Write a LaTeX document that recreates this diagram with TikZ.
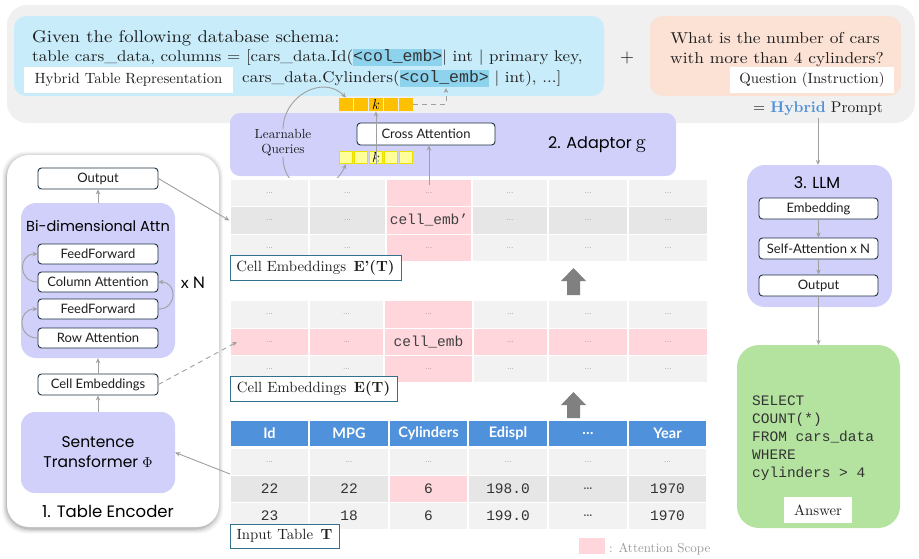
\documentclass[tikz,border=0pt]{standalone}
\usepackage{fontspec}
\setmainfont{lmroman10-regular.otf}[BoldFont=lmroman10-bold.otf,ItalicFont=lmroman10-italic.otf,BoldItalicFont=lmroman10-bolditalic.otf]
\newfontfamily\geof{lmroman10-regular.otf}[BoldFont=lmroman10-bold.otf,FakeStretch=1.1]
\usetikzlibrary{arrows.meta,calc}
\newfontfamily\titlef{Poppins}
\newfontfamily\labf{Lato}
\newfontfamily\monof{Liberation Mono}
\newcommand\fsz[1]{\fontsize{#1}{#1}\selectfont}
\newcommand\geo{\geof\fsz{17}}
\definecolor{bggray}{RGB}{240,240,240}
\definecolor{schemab}{RGB}{200,236,250}
\definecolor{cembc}{RGB}{141,211,238}
\definecolor{questo}{RGB}{251,226,213}
\definecolor{purp}{RGB}{208,208,250}
\definecolor{greenb}{RGB}{180,227,160}
\definecolor{pinkc}{RGB}{255,214,220}
\definecolor{graya}{RGB}{242,242,242}
\definecolor{grayb}{RGB}{230,230,230}
\definecolor{hdrblue}{RGB}{79,145,219}
\definecolor{gold}{RGB}{255,192,0}
\definecolor{lyellow}{RGB}{255,255,153}
\definecolor{yborder}{RGB}{235,225,0}
\definecolor{navy}{RGB}{28,48,64}
\definecolor{tealb}{RGB}{49,112,143}
\definecolor{conng}{RGB}{160,160,160}
\definecolor{txt}{RGB}{30,30,30}
\definecolor{blockg}{RGB}{128,128,128}
\newcommand\cemb{{\setlength\fboxsep{0pt}\colorbox{cembc}{\rule[-4.5pt]{0pt}{14.5pt}\monof\fsz{16.5}\color{black!80}<col\_emb>}}}
\newcommand\celldots{{\fsz{8}\color{black!65}...}}
\begin{document}
\begin{tikzpicture}[x=1pt,y=-1pt,
  lbox/.style={draw=navy,fill=white,rounded corners=3.5pt,line width=0.9pt,inner sep=0pt,font=\labf\fsz{13},text=txt},
  tagbox/.style={draw=tealb,fill=white,line width=0.8pt,inner sep=0pt,font=\fsz{14.8},text=txt},
  wtag/.style={fill=white,inner sep=0pt,font=\fsz{14.8},text=txt},
  conn/.style={draw=conng,line width=0.9pt,-{Stealth[length=5pt,width=4.5pt]}},
  purpbox/.style={fill=purp,inner sep=0pt},
  tcell/.style={draw=white,line width=1.3pt,inner sep=0pt},
  titl/.style={font=\titlef\fsz{16},text=black,inner sep=0pt},
  ltext/.style={anchor=base west,inner sep=0pt,font=\geo,text=txt},
]
\useasboundingbox (0,0) rectangle (919,558);

% ---------- top band ----------
\path[fill=bggray, rounded corners=20pt] (7,5) rectangle (915,123);
\node[fill=schemab, rounded corners=12pt, minimum width=590, minimum height=80, inner sep=0] (schema) at (309,56) {};
\node[ltext] (s1) at (32,42) {Given the following database schema:};
\node[ltext,font=\geof\fsz{15.5}] (s2) at (32,61) {table cars\_data, columns = [cars\_data.Id(\cemb| int | primary key,};
\node[ltext,font=\geof\fsz{15.5}] (s3) at (242,82) {cars\_data.Cylinders(\cemb\ | int), ...]};
\node[wtag, minimum width=209, minimum height=26] (htr) at (128.5,80) {Hybrid Table Representation};

\node[font=\fsz{18},text=txt] (plus) at (627,58) {+};

\node[fill=questo, rounded corners=12pt, minimum width=251, minimum height=80, inner sep=0] (quest) at (775.5,56) {};
\node[anchor=base,inner sep=0,font=\geof\fsz{15.8},text=txt] (q1) at (775,43) {What is the number of cars};
\node[anchor=base,inner sep=0,font=\geof\fsz{15.8},text=txt] (q2) at (777,63) {with more than 4 cylinders?};
\node[wtag, minimum width=164, minimum height=26] (qi) at (812,80) {Question (Instruction)};

\node[anchor=base,inner sep=0,font=\fsz{15.5},text=txt] (hp) at (818,112) {= {\color{hdrblue}\bfseries Hybrid} Prompt};

% ---------- adaptor ----------
\node[purpbox, rounded corners=10pt, minimum width=446, minimum height=63] (adp) at (453,144.5) {};
\node[lbox,minimum width=138,minimum height=22] (ca) at (426,134) {Cross Attention};
\node[align=center, font=\fontsize{13.2}{15}\selectfont, inner sep=0, text=txt] (lq) at (283,143) {Learnable\\Queries};
\node[titl,anchor=west] (adt) at (548,145) {2. Adaptor {\rmfamily\fsz{20}g}};

\foreach \i in {0,...,4}{
  \node[fill=gold, minimum width=14, minimum height=13.5, inner sep=0] (to\i) at ({346+15*\i},104.5) {};
  \node[fill=lyellow, draw=yborder, line width=0.8pt, minimum width=13, minimum height=12.5, inner sep=0] (ty\i) at ({346+15*\i},157.5) {};
}
\node[font=\fsz{15},inner sep=0] (ko) at (to2) {$k$};
\node[font=\fsz{15},inner sep=0] (ky) at (ty2) {$k$};

\coordinate (dbend) at (446,104.5);
\coordinate (cembtgt) at (446,88);
\draw[conn,dash pattern=on 5pt off 4pt] (to4.east) -- (dbend) -- (cembtgt);
\draw[conn] (ty2.south) -- (to2.south);
\draw[conn] (lq.north) to[out=90,in=135,looseness=1.2] (to0.north);
\draw[conn] (lq.south) to[out=-90,in=-115,looseness=1.6] (ty0.south);

% ---------- E'(T) ----------
\foreach \xa/\xb [count=\c] in {230/309,309/386,386/472,472/548,548/628,628/708}{
 \foreach \ya/\yb [count=\r] in {179/206.5,206.5/234.5,234.5/262}{
   \pgfmathsetmacro\xm{(\xa+\xb)/2}
   \pgfmathsetmacro\ym{(\ya+\yb)/2}
   \pgfmathsetmacro\cellw{\xb-\xa}
   \pgfmathsetmacro\cellh{\yb-\ya}
   \ifnum\c=3 \def\cc{pinkc}\else \ifnum\r=2 \def\cc{grayb}\else \def\cc{graya}\fi\fi
   \def\tx{\celldots}
   \ifnum\c=3 \ifnum\r=2 \def\tx{\monof\fsz{14.5}\color{black!75}cell\_emb’}\fi\fi
   \node[tcell,fill=\cc,minimum width=\cellw,minimum height=\cellh] (ep-\c-\r) at (\xm,\ym) {\tx};
 }
}
\node[tagbox, minimum width=171, minimum height=25] (lep) at (315.5,267.5) {Cell Embeddings\enspace\textbf{E’(T)}};
\coordinate (ecell) at (429,185);
\draw[conn] (ecell) -- (ecell |- ca.south);

% block arrows
\fill[blockg] (573.5,268) -- (586,281) -- (580,281) -- (580,295) -- (567,295) -- (567,281) -- (561,281) -- cycle;
\fill[blockg] (573.5,392) -- (586,405) -- (580,405) -- (580,418) -- (567,418) -- (567,405) -- (561,405) -- cycle;

% ---------- E(T) ----------
\foreach \xa/\xb [count=\c] in {230/309,309/384,384/473,473/548,548/628,628/708}{
 \foreach \ya/\yb [count=\r] in {300/328.5,328.5/355.5,355.5/383}{
   \pgfmathsetmacro\xm{(\xa+\xb)/2}
   \pgfmathsetmacro\ym{(\ya+\yb)/2}
   \pgfmathsetmacro\cellw{\xb-\xa}
   \pgfmathsetmacro\cellh{\yb-\ya}
   \def\cc{graya}
   \ifnum\c=3 \def\cc{pinkc}\fi
   \ifnum\r=2 \def\cc{pinkc}\fi
   \def\tx{\celldots}
   \ifnum\c=3 \ifnum\r=2 \def\tx{\monof\fsz{14.5}\color{black!75}cell\_emb}\fi\fi
   \node[tcell,fill=\cc,minimum width=\cellw,minimum height=\cellh] (e-\c-\r) at (\xm,\ym) {\tx};
 }
}
\node[tagbox, minimum width=167, minimum height=25] (le) at (313.5,388.5) {Cell Embeddings\enspace\textbf{E(T)}};
\coordinate (etin) at (237,342);

% ---------- Input table ----------
\foreach \xa/\xb/\hd/\va/\vb [count=\c] in {230/309/Id/22/23,309/389/MPG/22/18,389/468/Cylinders/6/6,468/548/Edispl/198.0/199.0,548/628/…/…/…,628/707/Year/1970/1970}{
   \pgfmathsetmacro\xm{(\xa+\xb)/2}
   \pgfmathsetmacro\cellw{\xb-\xa}
   \node[tcell,fill=hdrblue,minimum width=\cellw,minimum height=27,font=\labf\bfseries\fsz{14.5},text=white] (it-\c-0) at (\xm,433.5) {\hd};
   \node[tcell,fill=graya,minimum width=\cellw,minimum height=27.5] (it-\c-1) at (\xm,461.75) {\celldots};
   \def\cc{grayb}\ifnum\c=3 \def\cc{pinkc}\fi
   \node[tcell,fill=\cc,minimum width=\cellw,minimum height=27,font=\monof\fsz{14.5},text=black!80] (it-\c-2) at (\xm,489) {\va};
   \node[tcell,fill=graya,minimum width=\cellw,minimum height=27,font=\monof\fsz{14.5},text=black!80] (it-\c-3) at (\xm,516) {\vb};
}
\node[tagbox, minimum width=109, minimum height=24] (lit) at (284.5,536) {Input Table\enspace\textbf{T}};
\coordinate (itc) at (230,474);

% legend
\node[fill=pinkc, minimum width=26, minimum height=16, inner sep=0] (leg) at (592,546) {};
\node[anchor=base west, inner sep=0, text=black!40, font=\fsz{13}] (legt) at (609,552) {: Attention Scope};

% ---------- table encoder ----------
\foreach \s/\o in {5/0.03,4/0.04,3/0.05,2/0.07,1/0.09}
  \path[fill=black,opacity=\o,rounded corners=24pt] ({7-\s},{155-\s+1.5}) rectangle ({219+\s-1},{527+\s+1.5});
\node[fill=white, rounded corners=22pt, minimum width=212, minimum height=372, inner sep=0] (enc) at (113,341) {};
\node[lbox,minimum width=120,minimum height=21] (out1) at (98,178.5) {Output};
\node[purpbox, rounded corners=15pt, minimum width=154, minimum height=155] (bid) at (98,280.5) {};
\node[titl,font=\titlef\fsz{14.5}] (bidt) at (98,226) {Bi-dimensional Attn};
\node[lbox,minimum width=120,minimum height=20] (ff1) at (98,254) {FeedForward};
\node[lbox,minimum width=120,minimum height=20] (colatt) at (98,282) {Column Attention};
\node[lbox,minimum width=120,minimum height=20] (ff2) at (98,309) {FeedForward};
\node[lbox,minimum width=120,minimum height=20] (rowatt) at (98,338) {Row Attention};
\node[font=\labf\fsz{16},text=black,inner sep=0] (xn) at (193,283) {x N};
\node[lbox,minimum width=120,minimum height=21] (cemb) at (98,384.5) {Cell Embeddings};
\node[purpbox, rounded corners=14pt, minimum width=154, minimum height=81, align=center, font=\titlef\fontsize{15.5}{20}\selectfont] (st) at (98,452.5) {Sentence\\Transformer $\Phi$};
\node[titl,font=\titlef\fsz{16.5}] (enct) at (108,511) {1. Table Encoder};

\draw[conn] (bid.north) -- (out1.south);
\draw[conn] (cemb.north) -- (bid.south);
\draw[conn] (st.north) -- (cemb.south);
\draw[conn] (colatt.west) to[out=180,in=180,looseness=1.8] (ff1.west);
\draw[conn] (rowatt.west) to[out=180,in=180,looseness=1.8] (ff2.west);
\draw[conn] (ff2.east) to[out=0,in=0,looseness=1.8] (colatt.east);

\draw[conn] (out1.east) -- (ep-1-2.west);
\draw[conn,dash pattern=on 5pt off 4pt] (cemb.east) -- (etin);
\draw[conn] (itc) -- (st.east);

% ---------- LLM ----------
\node[purpbox, rounded corners=18pt, minimum width=145, minimum height=142] (llm) at (819.5,236) {};
\node[titl] (llmt) at (817,183) {3. LLM};
\node[lbox,minimum width=119,minimum height=21] (emb) at (818.5,208.5) {Embedding};
\node[lbox,minimum width=119,minimum height=21] (sa) at (818.5,248.5) {Self-Attention x N};
\node[lbox,minimum width=119,minimum height=21] (out2) at (818.5,285.5) {Output};
\draw[conn] (emb) -- (sa);
\draw[conn] (sa) -- (out2);
\draw[conn,shorten <=3pt] (hp.south) -- (hp.south |- llm.north);

\node[fill=greenb, rounded corners=22pt, minimum width=163, minimum height=183, inner sep=0] (ans) at (818.5,436.5) {};
\draw[conn] (out2.south) -- (ans.north);
\foreach \t [count=\i] in {SELECT,COUNT(*),FROM cars\_data,WHERE,cylinders > 4}
  \node[anchor=base west, font=\monof\fsz{14.5}, text=black!80, inner sep=0] (sql\i) at (752,{405+18*(\i-1)}) {\t};
\node[wtag, minimum width=68, minimum height=26] (answ) at (818,510) {Answer};
\end{tikzpicture}
\end{document}
